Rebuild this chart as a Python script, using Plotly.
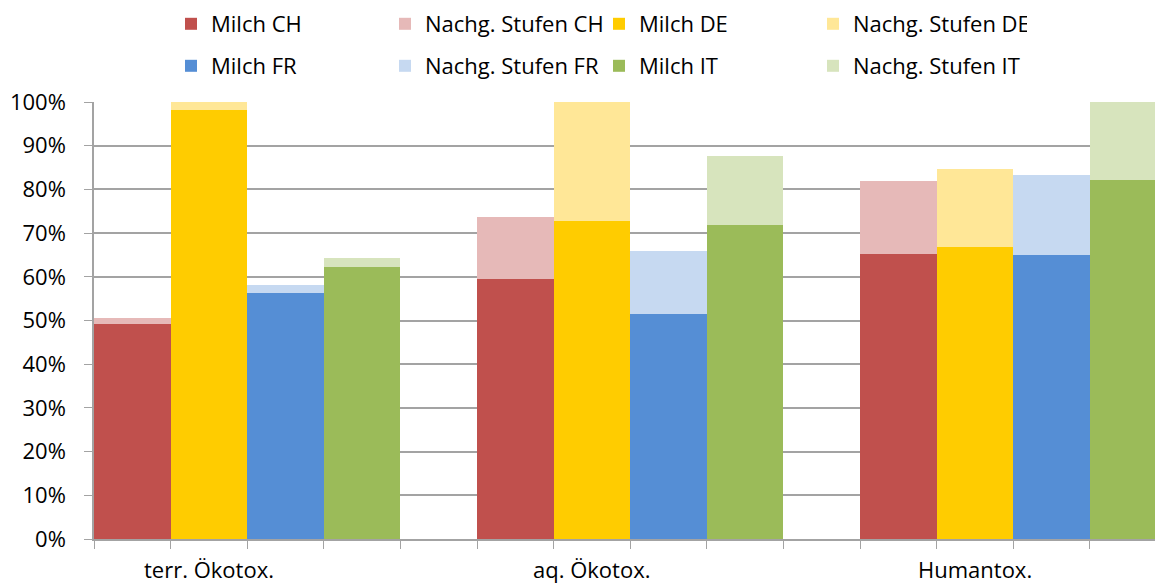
import plotly.graph_objects as go

categories = ["terr. Ökotox.", "aq. Ökotox.", "Humantox."]
countries = ["CH", "DE", "FR", "IT"]

# Anteile in % (Milch = Sockel, Nachgelagerte Stufen = Aufsatz)
milch_ch = [49.1, 59.4, 65.3]
nachg_ch = [1.4, 14.3, 16.7]
milch_de = [98.2, 72.7, 66.9]
nachg_de = [1.8, 27.3, 17.8]
milch_fr = [56.4, 51.4, 65.1]
nachg_fr = [1.7, 14.6, 18.2]
milch_it = [62.3, 71.9, 82.2]
nachg_it = [2.0, 15.8, 17.8]

milch = {"CH": milch_ch, "DE": milch_de, "FR": milch_fr, "IT": milch_it}
nachg = {"CH": nachg_ch, "DE": nachg_de, "FR": nachg_fr, "IT": nachg_it}
colors_dark = {"CH": "#C0504D", "DE": "#FFCC00", "FR": "#558ED5", "IT": "#9BBB59"}
colors_light = {"CH": "#E6B9B8", "DE": "#FFE797", "FR": "#C6D9F1", "IT": "#D7E4BD"}

FONT = "Open Sans"
GROUP = len(countries) + 1  # 4 Balken + Lücke
W, H = 1155, 583

fig = go.Figure()
for ci, c in enumerate(countries):
    xs = [k * GROUP + ci for k in range(len(categories))]
    leg = "legend" if ci < 2 else "legend2"
    fig.add_trace(go.Bar(x=xs, y=milch[c], name=f"Milch {c}", width=1,
                         marker=dict(color=colors_dark[c], line_width=0), legend=leg))
    fig.add_trace(go.Bar(x=xs, y=nachg[c], name=f"Nachg. Stufen {c}", width=1,
                         marker=dict(color=colors_light[c], line_width=0), legend=leg))

n_slots = len(categories) * GROUP - 1
for k, cat in enumerate(categories):
    fig.add_annotation(x=k * GROUP + 1, y=0, xref="x", yref="paper", yshift=-30,
                       text=cat, showarrow=False, yanchor="middle",
                       font=dict(family=FONT, size=22, color="black"))

legend_common = dict(orientation="h", entrywidth=169, entrywidthmode="pixels",
                     font=dict(family=FONT, size=22, color="black"),
                     xref="container", yref="container", xanchor="left", yanchor="middle",
                     bgcolor="rgba(0,0,0,0)", traceorder="normal")

grid = "#a3a3a3"
fig.update_layout(
    barmode="stack",
    bargap=0,
    width=W, height=H,
    margin=dict(l=94, r=0, t=102, b=44),
    paper_bgcolor="white", plot_bgcolor="white",
    font=dict(family=FONT, size=22, color="black"),
    legend=dict(x=171 / W, y=1 - 24 / H, **legend_common),
    legend2=dict(x=171 / W, y=1 - 66 / H, **legend_common),
    xaxis=dict(range=[-0.5, 13.35], tickmode="array",
               tickvals=[i - 0.5 for i in range(n_slots + 1)],
               ticktext=[""] * (n_slots + 1), ticks="outside", ticklen=8,
               tickcolor=grid, showgrid=False, showline=True,
               linecolor=grid, linewidth=1.5, zeroline=False, automargin=False),
    yaxis=dict(range=[0, 100], dtick=10, ticksuffix="%", ticks="outside", ticklen=8,
               tickcolor=grid, showgrid=True, gridcolor=grid, gridwidth=1.5,
               showline=True, linecolor=grid, linewidth=1.5, zeroline=False,
               ticklabelstandoff=14, automargin=False,
               tickfont=dict(family=FONT, size=22, color="black")),
)

# body-margin weg, damit die Grafik genau das Fenster füllt
fig.write_html("out.html", config={"displayModeBar": False},
               post_script="document.body.style.margin='0';")
